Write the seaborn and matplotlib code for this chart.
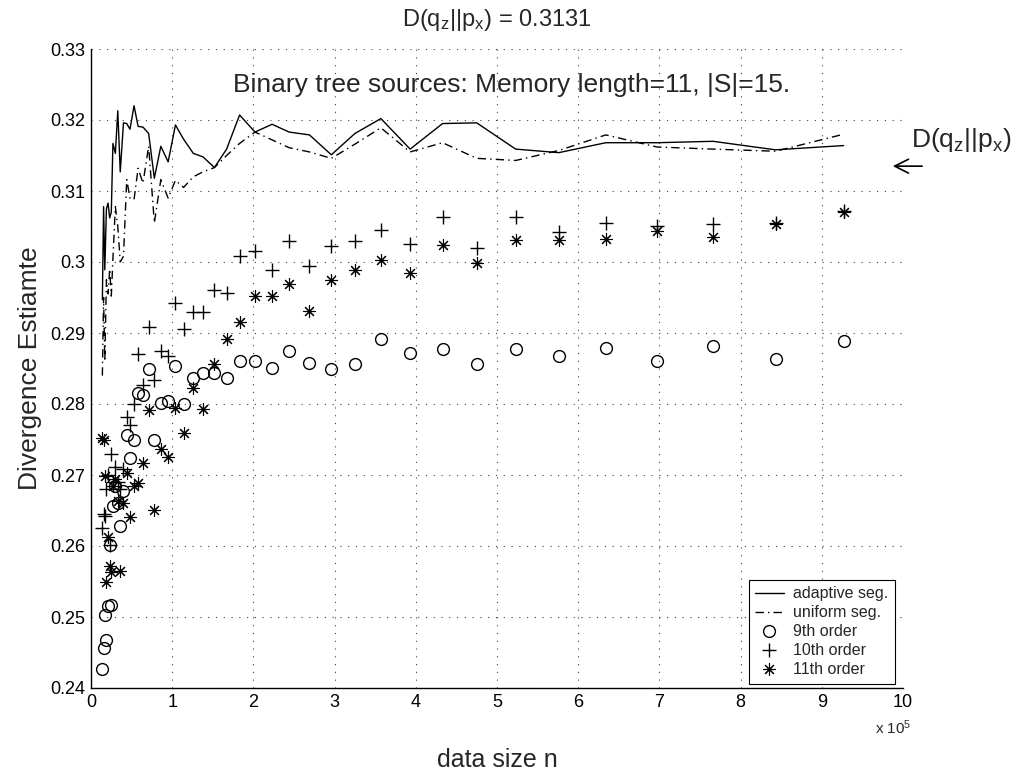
import matplotlib
matplotlib.use("Agg")
import matplotlib.pyplot as plt
import seaborn as sns
import pandas as pd

# ---- data (x in units of 1e5) ----
n_vals = [0.14, 0.155, 0.17, 0.19, 0.21, 0.23, 0.25, 0.27, 0.30, 0.33,
          0.36, 0.40, 0.44, 0.48, 0.53, 0.58, 0.64, 0.71, 0.78, 0.86,
          0.95, 1.04, 1.14, 1.26, 1.38, 1.52, 1.67, 1.83, 2.02, 2.23,
          2.44, 2.69, 2.96, 3.25, 3.57, 3.93, 4.33, 4.75, 5.23, 5.76,
          6.34, 6.97, 7.66, 8.43, 9.27]

adaptive = [0.2947, 0.3078, 0.2989, 0.3075, 0.3083, 0.3062, 0.3070, 0.3167, 0.3153, 0.3213,
            0.3127, 0.3196, 0.3195, 0.3187, 0.3220, 0.3191, 0.3190, 0.3181, 0.3118, 0.3163,
            0.3141, 0.3193, 0.3173, 0.3153, 0.3148, 0.3133, 0.3159, 0.3207, 0.3183, 0.3194,
            0.3183, 0.3179, 0.3151, 0.3181, 0.3202, 0.3159, 0.3195, 0.3196, 0.3159, 0.3154,
            0.3168, 0.3168, 0.3170, 0.3158, 0.3164]

uniform = [0.2840, 0.2950, 0.2860, 0.2975, 0.2955, 0.2990, 0.2952, 0.3005, 0.3078, 0.3050,
           0.3000, 0.3008, 0.3116, 0.3090, 0.3088, 0.3132, 0.3111, 0.3163, 0.3055, 0.3116,
           0.3090, 0.3115, 0.3105, 0.3120, 0.3127, 0.3133, 0.3150, 0.3167, 0.3183, 0.3172,
           0.3161, 0.3155, 0.3146, 0.3166, 0.3189, 0.3155, 0.3168, 0.3146, 0.3143, 0.3157,
           0.3179, 0.3162, 0.3159, 0.3156, 0.3180]

order9 = [0.2427, 0.2456, 0.2503, 0.2468, 0.2516, 0.2601, 0.2517, 0.2657, 0.2684, 0.2661,
          0.2628, 0.2677, 0.2756, 0.2724, 0.2750, 0.2816, 0.2812, 0.2849, 0.2749, 0.2802,
          0.2804, 0.2853, 0.2800, 0.2837, 0.2843, 0.2843, 0.2837, 0.2861, 0.2861, 0.2851,
          0.2875, 0.2858, 0.2849, 0.2857, 0.2891, 0.2872, 0.2877, 0.2856, 0.2877, 0.2867,
          0.2879, 0.2861, 0.2881, 0.2864, 0.2889]

order10 = [0.2626, 0.2645, 0.2642, 0.2680, 0.2700, 0.2601, 0.2729, 0.2690, 0.2711, 0.2690,
           0.2680, 0.2709, 0.2782, 0.2770, 0.2800, 0.2870, 0.2827, 0.2909, 0.2834, 0.2875,
           0.2867, 0.2942, 0.2906, 0.2930, 0.2930, 0.2960, 0.2957, 0.3009, 0.3016, 0.2989,
           0.3030, 0.2994, 0.3023, 0.3029, 0.3045, 0.3026, 0.3063, 0.3020, 0.3063, 0.3042,
           0.3055, 0.3051, 0.3054, 0.3055, 0.3072]

order11 = [0.2752, 0.2750, 0.2698, 0.2550, 0.2612, 0.2572, 0.2563, 0.2685, 0.2695, 0.2663,
           0.2565, 0.2661, 0.2703, 0.2641, 0.2684, 0.2689, 0.2717, 0.2792, 0.2651, 0.2736,
           0.2725, 0.2795, 0.2759, 0.2823, 0.2793, 0.2856, 0.2891, 0.2916, 0.2952, 0.2952,
           0.2969, 0.2931, 0.2974, 0.2989, 0.3003, 0.2984, 0.3024, 0.2999, 0.3031, 0.3031,
           0.3032, 0.3044, 0.3035, 0.3053, 0.3070]

x_ticks = [0, 1, 2, 3, 4, 5, 6, 7, 8, 9, 10]
y_ticks = [0.24, 0.25, 0.26, 0.27, 0.28, 0.29, 0.30, 0.31, 0.32, 0.33]
y_tick_labels = ["0.24", "0.25", "0.26", "0.27", "0.28", "0.29", "0.3", "0.31", "0.32", "0.33"]
true_div = 0.3131

df = pd.DataFrame({"n": n_vals, "adaptive": adaptive, "uniform": uniform,
                   "o9": order9, "o10": order10, "o11": order11})

sns.set_theme(style="white")
plt.rcParams["font.family"] = ["Liberation Sans", "DejaVu Sans"]
plt.rcParams["mathtext.default"] = "regular"

fig = plt.figure(figsize=(10.17, 7.74), dpi=100)
ax = fig.add_axes([91/1017, 1-688/774, 812/1017, 639/774])

sns.lineplot(data=df, x="n", y="adaptive", ax=ax, color="black", lw=1.0,
             label="adaptive seg.", estimator=None, sort=False)
sns.lineplot(data=df, x="n", y="uniform", ax=ax, color="black", lw=1.0,
             linestyle=(0, (6, 3, 1, 3)), label="uniform seg.", estimator=None, sort=False)
sns.lineplot(data=df, x="n", y="o9", ax=ax, color="black", linestyle="", marker="o",
             markersize=8.5, markerfacecolor="none", markeredgecolor="black",
             markeredgewidth=1.0, label="9th order", estimator=None, sort=False)
sns.lineplot(data=df, x="n", y="o10", ax=ax, color="black", linestyle="", marker="+",
             markersize=10, markeredgecolor="black", markeredgewidth=1.0,
             label="10th order", estimator=None, sort=False)
sns.lineplot(data=df, x="n", y="o11", ax=ax, color="black", linestyle="", marker=(8, 2, 0),
             markersize=9, markeredgecolor="black", markeredgewidth=0.8,
             label="11th order", estimator=None, sort=False)

ax.set_xlim(0, 10)
ax.set_ylim(0.24, 0.33)
ax.set_xticks(x_ticks)
ax.set_xticklabels([str(t) for t in x_ticks])
ax.set_yticks(y_ticks)
ax.set_yticklabels(y_tick_labels)
ax.set_xlabel("")
ax.set_ylabel("")
ax.tick_params(direction="in", length=6, width=0.8, colors="black", labelsize=13,
               pad=4)
ax.grid(True, color="0.25", linestyle=(0, (1, 6)), linewidth=0.8)
for s in ["top", "right"]:
    ax.spines[s].set_visible(False)
for s in ["left", "bottom"]:
    ax.spines[s].set_color("black")
    ax.spines[s].set_linewidth(1.0)

leg = ax.legend(loc="lower right", bbox_to_anchor=(0.99, 0.007), borderaxespad=0,
                fontsize=11.5, frameon=True, fancybox=False, framealpha=1,
                edgecolor="black", handlelength=1.8, labelspacing=0.25,
                borderpad=0.4, handletextpad=0.6)
leg.get_frame().set_linewidth(0.8)
for h in leg.legend_handles:
    h.set_markeredgecolor("black")

ax.text(5.18, 0.3249, "Binary tree sources: Memory length=11, |S|=15.",
        ha="center", va="center", fontsize=19)
ax.annotate("", xy=(9.84, 0.3135), xytext=(10.27, 0.3135),
            arrowprops=dict(arrowstyle="->", lw=1.2, mutation_scale=25, color="black"),
            annotation_clip=False)
ax.text(10.72, 0.3172, "D(q$_z$||p$_x$)", ha="center", va="center", fontsize=19,
        clip_on=False)

fig.text(497/1017, 1-20/774, "D(q$_z$||p$_x$) = %.4f" % true_div, ha="center",
         va="center", fontsize=17)
fig.text(30/1017, 1-368/774, "Divergence Estiamte", rotation=90, ha="center",
         va="center", fontsize=19)
fig.text(497/1017, 1-760/774, "data size n", ha="center", va="center", fontsize=18)
fig.text(893/1017, 1-728/774, "x 10$^5$", ha="center", va="center", fontsize=11)

fig.savefig("out.png", dpi=100)
